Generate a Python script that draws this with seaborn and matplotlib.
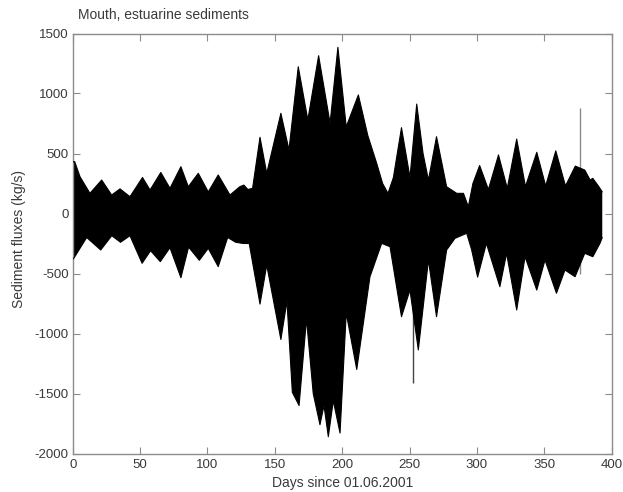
import numpy as np
import pandas as pd
import matplotlib
matplotlib.use("Agg")
import matplotlib.pyplot as plt
import seaborn as sns

# Upper envelope of the tidal sediment flux (day, kg/s)
upper_days = [0, 1.5, 5.4, 12.8, 21.5, 28.9, 35.1, 42.5, 51.8, 57.4, 65.4, 72.2,
              80.3, 85.8, 93.2, 100.6, 108, 116.7, 124, 127, 130, 133.5, 139,
              144, 154.5, 160.5, 167.4, 174.5, 182.5, 191, 196.8, 203, 212, 219,
              225.6, 230, 234, 238, 244, 250.3, 255.3, 260, 264, 270, 277.5,
              285, 290, 293.6, 297, 302, 308.5, 316, 322.5, 329.5, 336, 344.4,
              351, 358.5, 365.7, 373, 380, 384, 386, 390.5, 393]
upper_vals = [430, 432, 307, 168, 279, 154, 205, 140, 300, 196, 342, 210,
              390, 223, 335, 180, 321, 154, 223, 237, 200, 210, 635,
              335, 835, 530, 1223, 780, 1315, 752, 1385, 723, 988, 650,
              418, 250, 168, 300, 715, 300, 912, 500, 279, 640, 223,
              168, 168, 57, 250, 400, 200, 488, 210, 620, 225, 510,
              230, 522, 230, 395, 362, 279, 293, 223, 180]

# Lower envelope of the tidal sediment flux (day, kg/s)
lower_days = [0, 1, 10.4, 20.8, 29, 35.5, 42.5, 51.5, 57.8, 65, 72.2, 80.3,
              86, 94, 100.6, 108, 115, 121, 126.6, 131, 139, 144, 154.5, 159,
              163, 168, 173.5, 178.5, 183.5, 186.5, 189.7, 193.4, 198.4, 203,
              210.8, 220.6, 229.3, 235.5, 244, 250.3, 256.5, 264, 270, 277.5,
              283.7, 292.4, 296, 300.5, 307, 317, 322, 329.5, 335.7, 344.4,
              350.5, 359, 365.3, 372.8, 380, 386, 391.3, 393]
lower_vals = [-380, -370, -200, -304, -185, -240, -185, -415, -310, -401, -285, -535,
              -280, -390, -290, -443, -200, -240, -250, -250, -755, -430, -1050, -730,
              -1490, -1600, -880, -1500, -1760, -1600, -1860, -1560, -1830, -830,
              -1300, -527, -249, -277, -860, -638, -1137, -388, -860, -304,
              -207, -165, -300, -530, -249, -610, -332, -804, -360, -638,
              -388, -665, -471, -527, -332, -360, -249, -200]

# Isolated single-sample spikes
spike_days = [252.8, 376.4]
spike_low = [-1415, -500]
spike_high = [-700, 877]

x_ticks = [0, 50, 100, 150, 200, 250, 300, 350, 400]
y_ticks = [-2000, -1500, -1000, -500, 0, 500, 1000, 1500]

sns.set_theme(style="white")
plt.rcParams["font.family"] = ["Liberation Sans", "DejaVu Sans"]
plt.rcParams["axes.unicode_minus"] = False

text_col = "#3a3a3a"
frame_col = "#8c8c8c"

fig = plt.figure(figsize=(6.23, 4.92), dpi=100)
ax = fig.add_axes([72.7 / 623, 38.5 / 492, 539 / 623, 420 / 492])

upper = pd.DataFrame({"day": upper_days, "flux": upper_vals})
lower = pd.DataFrame({"day": lower_days, "flux": lower_vals})

# Filled band between the envelopes
poly_x = np.r_[upper["day"].to_numpy(), lower["day"].to_numpy()[::-1]]
poly_y = np.r_[upper["flux"].to_numpy(), lower["flux"].to_numpy()[::-1]]
ax.fill(poly_x, poly_y, color="black", lw=0, zorder=2)
sns.lineplot(data=upper, x="day", y="flux", color="black", lw=0.8, ax=ax,
             estimator=None, sort=False, zorder=3)
sns.lineplot(data=lower, x="day", y="flux", color="black", lw=0.8, ax=ax,
             estimator=None, sort=False, zorder=3)
ax.vlines(spike_days, spike_low, spike_high, colors=["#444444", "#8a8a8a"],
          lw=1.0, zorder=1)

ax.set_xlim(0, 400)
ax.set_ylim(-2000, 1500)
ax.set_xticks(x_ticks)
ax.set_yticks(y_ticks)
ax.set_xticklabels([str(v) for v in x_ticks])
ax.set_yticklabels([str(v) for v in y_ticks])

for s in ax.spines.values():
    s.set_visible(True)
    s.set_color(frame_col)
    s.set_linewidth(1.0)

ax.tick_params(axis="both", which="both", direction="in", length=5, width=0.8,
               color=frame_col, labelcolor=text_col, labelsize=9.5,
               top=True, right=True, bottom=True, left=True)
ax.tick_params(axis="x", pad=4)
ax.tick_params(axis="y", pad=3)

ax.set_xlabel("Days since 01.06.2001", fontsize=10, color=text_col)
ax.set_ylabel("Sediment fluxes (kg/s)", fontsize=10, color=text_col)
ax.xaxis.set_label_coords(0.5, (453.5 - 483) / 420)
ax.xaxis.label.set_verticalalignment("center")
ax.yaxis.set_label_coords((19 - 72.7) / 539, 0.51)
ax.yaxis.label.set_verticalalignment("center")

fig.text(78 / 623, 1 - 15 / 492, "Mouth, estuarine sediments", fontsize=10,
         color=text_col, ha="left", va="center")

fig.savefig("out.png", dpi=100, facecolor="white")
